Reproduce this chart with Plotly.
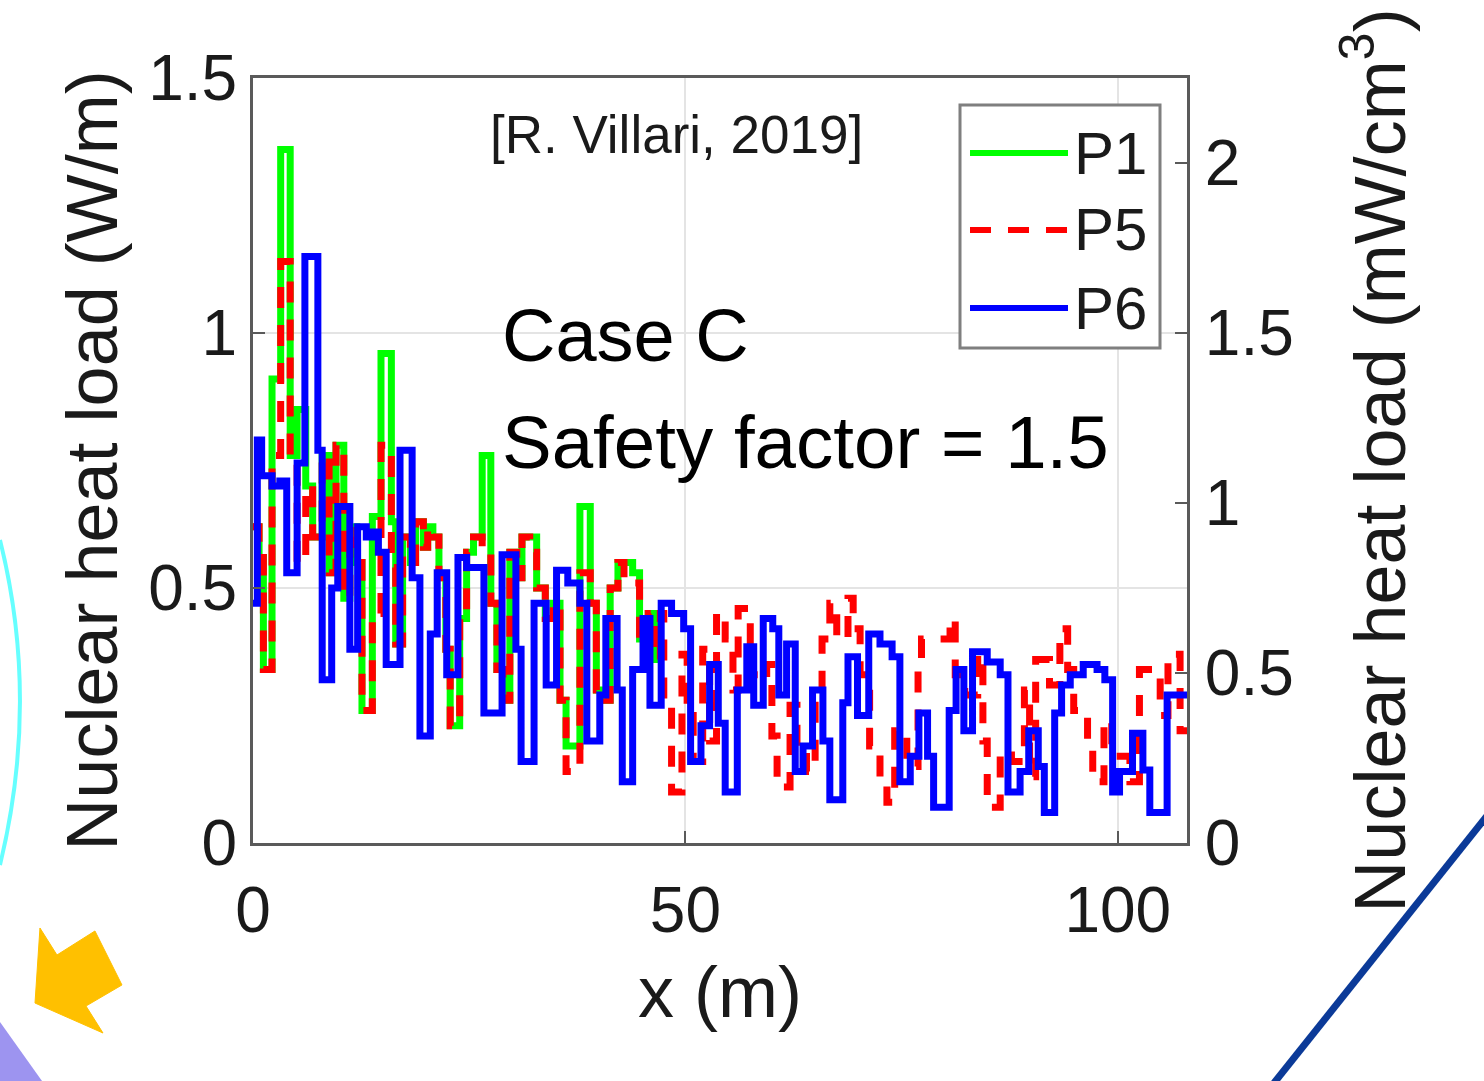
import plotly.graph_objects as go

# ---------------- data (x in m, heat load in W/m) ----------------
P6_EDGES = [0.0, 0.5, 1.0, 2.2, 3.1, 3.9, 5.1, 6.0, 7.5, 8.0, 9.1, 9.8, 11.2, 12.1, 13.1, 13.8,
            14.5, 15.4, 17.0, 18.4, 19.3, 20.5, 21.3, 22.4, 23.7, 24.7, 26.7, 28.8, 30.4, 31.0,
            32.5, 33.9, 35.1, 36.4, 37.8, 38.6, 40.1, 40.8, 42.1, 42.7, 43.9, 45.1, 45.9, 47.2,
            48.4, 49.8, 50.6, 51.8, 52.8, 53.8, 54.6, 56.0, 57.1, 57.9, 59.0, 60.1, 60.8, 61.7,
            62.7, 63.6, 64.7, 65.9, 66.7, 68.2, 68.8, 69.9, 71.2, 72.5, 73.9, 74.8, 76.0, 77.0,
            78.0, 78.7, 80.5, 81.3, 82.2, 83.2, 84.9, 86.4, 87.3, 88.7, 89.7, 90.8, 91.5, 92.7,
            93.5, 94.5, 96.0, 97.6, 98.5, 99.4, 100.2, 101.7, 102.9, 103.7, 105.7, 108.0]
P6_VALUES = [0.47, 0.79, 0.72, 0.70, 0.71, 0.53, 0.745, 1.15, 0.77, 0.32, 0.50, 0.66, 0.38, 0.62,
             0.60, 0.61, 0.57, 0.35, 0.77, 0.52, 0.21, 0.41, 0.53, 0.33, 0.56, 0.54, 0.255, 0.565,
             0.38, 0.16, 0.47, 0.31, 0.535, 0.51, 0.47, 0.20, 0.29, 0.44, 0.30, 0.12, 0.34, 0.44,
             0.27, 0.47, 0.45, 0.42, 0.16, 0.23, 0.35, 0.235, 0.10, 0.30, 0.385, 0.27, 0.44, 0.42,
             0.29, 0.39, 0.14, 0.19, 0.30, 0.20, 0.085, 0.275, 0.365, 0.25, 0.41, 0.39, 0.365,
             0.12, 0.17, 0.255, 0.17, 0.07, 0.26, 0.34, 0.22, 0.375, 0.355, 0.33, 0.10, 0.14,
             0.22, 0.15, 0.06, 0.255, 0.31, 0.33, 0.35, 0.34, 0.32, 0.10, 0.14, 0.215, 0.143,
             0.06, 0.29]

P5_EDGES = [0.0, 0.7, 1.2, 2.2, 3.2, 4.3, 5.1, 6.1, 6.9, 8.0, 8.8, 9.6, 10.5, 11.2, 12.0, 12.6,
            13.8, 14.8, 16.0, 16.5, 17.3, 18.2, 18.8, 19.7, 20.2, 20.8, 21.5, 22.3, 22.8, 23.9,
            24.7, 25.5, 26.5, 27.5, 28.2, 28.9, 29.7, 30.5, 31.1, 32.0, 32.8, 33.8, 34.7, 35.5,
            36.2, 37.8, 39.0, 39.7, 40.7, 41.3, 42.2, 42.9, 43.9, 44.7, 45.7, 46.5, 47.1, 47.5,
            48.4, 49.6, 50.2, 50.9, 52.0, 52.8, 53.6, 54.6, 55.5, 56.1, 57.5, 58.4, 59.4, 60.0,
            60.6, 62.1, 62.9, 64.0, 65.0, 65.8, 66.7, 67.5, 68.8, 69.4, 70.2, 71.3, 72.5, 73.3,
            74.2, 75.6, 76.9, 77.3, 80.6, 81.2, 82.3, 83.8, 84.4, 84.9, 86.4, 87.7, 89.2, 89.8,
            90.5, 92.1, 93.3, 94.2, 94.9, 96.5, 97.1, 98.4, 99.3, 101.4, 102.5, 104.9, 105.8,
            107.2, 108.0]
P5_VALUES = [0.62, 0.56, 0.34, 0.76, 1.14, 0.76, 0.55, 0.70, 0.60, 0.76, 0.53, 0.78, 0.48, 0.62,
             0.55, 0.26, 0.45, 0.78, 0.54, 0.39, 0.60, 0.55, 0.63, 0.58, 0.62, 0.60, 0.52, 0.38,
             0.23, 0.44, 0.57, 0.60, 0.58, 0.47, 0.34, 0.28, 0.57, 0.52, 0.60, 0.57, 0.50, 0.44,
             0.47, 0.28, 0.14, 0.53, 0.47, 0.30, 0.28, 0.50, 0.55, 0.52, 0.51, 0.40, 0.45, 0.36,
             0.45, 0.28, 0.10, 0.37, 0.25, 0.16, 0.38, 0.20, 0.45, 0.40, 0.30, 0.46, 0.33, 0.32,
             0.35, 0.21, 0.11, 0.27, 0.19, 0.14, 0.30, 0.40, 0.47, 0.40, 0.48, 0.42, 0.33, 0.19,
             0.12, 0.08, 0.22, 0.15, 0.34, 0.40, 0.44, 0.33, 0.29, 0.37, 0.20, 0.07, 0.18, 0.16,
             0.30, 0.13, 0.36, 0.31, 0.42, 0.34, 0.26, 0.19, 0.12, 0.24, 0.17, 0.12, 0.34, 0.25,
             0.37, 0.22]

P1_EDGES = [0.0, 0.7, 1.2, 2.2, 3.2, 4.3, 5.1, 6.1, 6.9, 8.0, 8.8, 9.6, 10.5, 11.2, 12.0, 12.6,
            13.8, 14.8, 16.0, 16.5, 17.3, 18.2, 18.8, 19.7, 20.2, 20.8, 21.5, 22.3, 22.8, 23.9,
            24.7, 25.5, 26.5, 27.5, 28.2, 28.9, 29.7, 30.5, 31.1, 32.0, 32.8, 33.8, 34.7, 35.5,
            36.2, 37.8, 39.0, 39.7, 40.7, 41.3, 42.2, 42.9, 43.9, 44.7, 45.7, 46.5, 47.1]
P1_VALUES = [0.62, 0.56, 0.34, 0.91, 1.36, 0.76, 0.85, 0.70, 0.60, 0.76, 0.53, 0.78, 0.48, 0.62,
             0.55, 0.26, 0.64, 0.96, 0.63, 0.39, 0.60, 0.55, 0.63, 0.58, 0.62, 0.60, 0.52, 0.38,
             0.23, 0.44, 0.57, 0.60, 0.76, 0.47, 0.34, 0.28, 0.57, 0.52, 0.60, 0.60, 0.50, 0.44,
             0.47, 0.28, 0.19, 0.66, 0.47, 0.30, 0.28, 0.50, 0.55, 0.55, 0.53, 0.40, 0.45, 0.36]

SERIES_NAMES = ["P1", "P5", "P6"]
X_TICKS = [0, 50, 100]
Y_TICKS = [0, 0.5, 1, 1.5]
Y_TICK_TEXT = ["0", "0.5", "1", "1.5"]
Y2_TICKS = [0, 0.5, 1, 1.5, 2]
Y2_TICK_TEXT = ["0", "0.5", "1", "1.5", "2"]

# ---------------- layout geometry ----------------
W, H = 1484, 1081
L, R, T, B = 253, 1187, 78, 843
FONT = "Liberation Sans, Arial, sans-serif"
GREEN, RED, BLUE = "#00ff00", "#ff0000", "#0000ff"
AX = "#5a5a5a"
TXT = "#1a1a1a"
LW = 7
DASH = "21px,17px"


def px(x):
    return (x - L) / (R - L)


def py(y):
    return (B - y) / (B - T)


def closed(edges, vals):
    return list(edges), list(vals) + [vals[-1]]


fig = go.Figure()
x1, y1 = closed(P1_EDGES, P1_VALUES)
x5, y5 = closed(P5_EDGES, P5_VALUES)
x6, y6 = closed(P6_EDGES, P6_VALUES)
fig.add_trace(go.Scatter(x=x1, y=y1, name=SERIES_NAMES[0], mode="lines",
                         line=dict(shape="hv", color=GREEN, width=LW), showlegend=False))
fig.add_trace(go.Scatter(x=x5, y=y5, name=SERIES_NAMES[1], mode="lines",
                         line=dict(shape="hv", color=RED, width=LW, dash=DASH),
                         showlegend=False))
fig.add_trace(go.Scatter(x=x6, y=y6, name=SERIES_NAMES[2], mode="lines",
                         line=dict(shape="hv", color=BLUE, width=LW), showlegend=False))
# trace anchoring the right-hand axis (mW/cm3)
fig.add_trace(go.Scatter(x=[None], y=[None], yaxis="y2", showlegend=False, hoverinfo="skip"))

tickfont = dict(family=FONT, size=64, color=TXT)
titlefont = dict(family=FONT, size=72, color=TXT)

shapes = []
# legend box
shapes.append(dict(type="rect", xref="paper", yref="paper", x0=px(960), x1=px(1160),
                   y0=py(348), y1=py(105), line=dict(color="#7f7f7f", width=3),
                   fillcolor="white", layer="above"))
for yy, col, dash in [(153, GREEN, "solid"), (230, RED, DASH), (308, BLUE, "solid")]:
    shapes.append(dict(type="line", xref="paper", yref="paper", x0=px(970), x1=px(1068),
                       y0=py(yy), y1=py(yy), line=dict(color=col, width=6, dash=dash),
                       layer="above"))

# decorative slide elements around the chart
shapes.append(dict(type="path", xref="paper", yref="paper",
                   path="M {:.4f},{:.4f} Q {:.4f},{:.4f} {:.4f},{:.4f}".format(
                       px(0), py(540), px(40), py(700), px(0), py(865)),
                   line=dict(color="#66ffff", width=4)))
arrow_pts = [(35, 1003), (40, 928), (57, 955), (95, 931), (122, 985), (86, 1006), (103, 1033)]
shapes.append(dict(type="path", xref="paper", yref="paper",
                   path="M " + " L ".join("{:.4f},{:.4f}".format(px(a), py(b)) for a, b in arrow_pts) + " Z",
                   fillcolor="#ffc000", line=dict(color="#ffc000", width=1)))
shapes.append(dict(type="path", xref="paper", yref="paper",
                   path="M {:.4f},{:.4f} L {:.4f},{:.4f} L {:.4f},{:.4f} Z".format(
                       px(0), py(1022), px(42), py(1081), px(0), py(1081)),
                   fillcolor="#9d94f0", line=dict(width=0)))
shapes.append(dict(type="line", xref="paper", yref="paper", x0=px(1274), y0=py(1083),
                   x1=px(1490), y1=py(812), line=dict(color="#0b3a98", width=7)))

annotations = [
    dict(text="[R. Villari, 2019]", x=px(676), y=py(135), xref="paper", yref="paper",
         xanchor="center", yanchor="middle", showarrow=False,
         font=dict(family=FONT, size=53, color=TXT)),
    dict(text="Case C", x=px(500), y=py(335), xref="paper", yref="paper",
         xanchor="left", yanchor="middle", showarrow=False,
         font=dict(family=FONT, size=74, color="#000000")),
    dict(text="Safety factor = 1.5", x=px(500), y=py(442), xref="paper", yref="paper",
         xanchor="left", yanchor="middle", showarrow=False,
         font=dict(family=FONT, size=74.5, color="#000000")),
]
for yy, name in zip([153, 230, 308], SERIES_NAMES):
    annotations.append(dict(text=name, x=px(1072), y=py(yy), xref="paper", yref="paper",
                            xanchor="left", yanchor="middle", showarrow=False,
                            font=dict(family=FONT, size=60, color=TXT)))

fig.update_layout(
    width=W, height=H,
    margin=dict(l=L, r=W - R, t=T, b=H - B, autoexpand=False),
    paper_bgcolor="white", plot_bgcolor="white",
    showlegend=False,
    font=dict(family=FONT, color=TXT),
    xaxis=dict(range=[0, 108], tickvals=X_TICKS, ticks="inside", ticklen=12, tickwidth=2,
               tickcolor=AX, showline=True, linecolor=AX, linewidth=3, mirror=True,
               showgrid=True, gridcolor="#e4e4e4", gridwidth=2, zeroline=False,
               tickfont=tickfont, ticklabelstandoff=9,
               title=dict(text="x (m)", font=titlefont, standoff=22)),
    yaxis=dict(range=[0, 1.5], tickvals=Y_TICKS, ticktext=Y_TICK_TEXT, ticks="inside",
               ticklen=12, tickwidth=2, tickcolor=AX, showline=True, linecolor=AX, linewidth=3,
               showgrid=True, gridcolor="#e4e4e4", gridwidth=2, zeroline=False,
               tickfont=tickfont, ticklabelstandoff=0,
               title=dict(text="Nuclear heat load (W/m)", font=titlefont, standoff=8)),
    yaxis2=dict(range=[0, 2.25], overlaying="y", side="right", tickvals=Y2_TICKS,
                ticktext=Y2_TICK_TEXT, ticks="inside", ticklen=12, tickwidth=2, tickcolor=AX,
                showline=True, linecolor=AX, linewidth=3, showgrid=False, zeroline=False,
                tickfont=tickfont, ticklabelstandoff=2,
                title=dict(text="Nuclear heat load (mW/cm<sup>3</sup>)", font=titlefont,
                           standoff=62)),
    shapes=shapes,
    annotations=annotations,
)

fig.write_html("out.html")
